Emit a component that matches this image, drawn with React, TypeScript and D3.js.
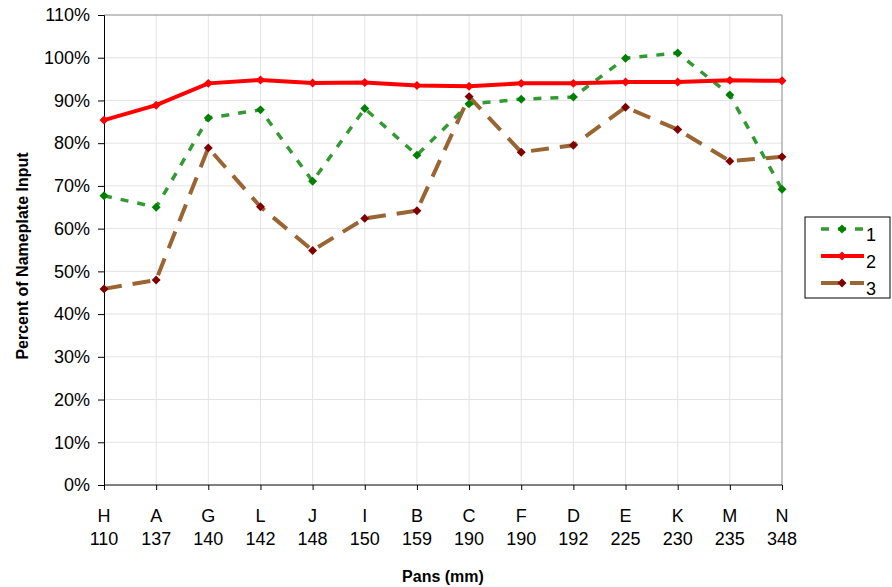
import React, { useRef, useEffect } from "react";
import * as d3 from "d3";

const letters = ["H", "A", "G", "L", "J", "I", "B", "C", "F", "D", "E", "K", "M", "N"];
const sizes = ["110", "137", "140", "142", "148", "150", "159", "190", "190", "192", "225", "230", "235", "348"];

const series1 = [67.7, 65.0, 85.9, 87.8, 71.1, 88.1, 77.2, 89.2, 90.3, 90.8, 99.9, 101.1, 91.3, 69.2];
const series2 = [85.4, 88.9, 94.0, 94.8, 94.1, 94.2, 93.5, 93.3, 94.0, 94.0, 94.3, 94.3, 94.7, 94.6];
const series3 = [45.9, 48.0, 78.9, 65.1, 54.9, 62.4, 64.2, 90.9, 77.9, 79.5, 88.4, 83.2, 75.8, 76.8];

const yTicks = [0, 10, 20, 30, 40, 50, 60, 70, 80, 90, 100, 110];

const App = () => {
    const ref = useRef(null);

    useEffect(() => {
        const svg = d3.select(ref.current);
        svg.selectAll("*").remove();

        const left = 104, right = 782, top = 15, bottom = 485;
        const font = "Liberation Sans, Arial, sans-serif";

        const x = d3.scalePoint()
            .domain(d3.range(letters.length).map(String))
            .range([left, right]);
        const y = d3.scaleLinear().domain([0, 110]).range([bottom, top]);

        // grid
        svg.append("g").selectAll("line").data(yTicks.slice(1, -1)).join("line")
            .attr("x1", left).attr("x2", right)
            .attr("y1", d => y(d)).attr("y2", d => y(d))
            .attr("stroke", "#e3e3e3").attr("stroke-width", 1);
        svg.append("g").selectAll("line").data(d3.range(1, letters.length - 1)).join("line")
            .attr("x1", d => x(String(d))).attr("x2", d => x(String(d)))
            .attr("y1", top).attr("y2", bottom)
            .attr("stroke", "#e3e3e3").attr("stroke-width", 1);

        // frame top/right
        svg.append("path")
            .attr("d", `M${left},${top}H${right}V${bottom}`)
            .attr("fill", "none").attr("stroke", "#888").attr("stroke-width", 1);

        // y axis
        const yAxis = svg.append("g")
            .attr("transform", `translate(${left},0)`)
            .call(d3.axisLeft(y).tickValues(yTicks).tickSize(6).tickPadding(8).tickFormat(d => d + "%"));
        yAxis.select(".domain").attr("stroke", "#000");
        yAxis.selectAll("text").attr("font-family", font).attr("font-size", 18).attr("fill", "#000");

        // x axis
        const xAxis = svg.append("g")
            .attr("transform", `translate(0,${bottom})`)
            .call(d3.axisBottom(x).tickSize(5).tickFormat(() => ""));
        xAxis.select(".domain").attr("stroke", "#000").attr("d", `M${left},0H${right}`);

        svg.append("g").selectAll("text").data(letters).join("text")
            .attr("x", (d, i) => x(String(i))).attr("y", 522)
            .attr("text-anchor", "middle")
            .attr("font-family", font).attr("font-size", 18)
            .text(d => d);
        svg.append("g").selectAll("text").data(sizes).join("text")
            .attr("x", (d, i) => x(String(i))).attr("y", 545)
            .attr("text-anchor", "middle")
            .attr("font-family", font).attr("font-size", 18)
            .text(d => d);

        // titles
        svg.append("text")
            .attr("x", 443).attr("y", 582)
            .attr("text-anchor", "middle")
            .attr("font-family", font).attr("font-size", 16).attr("font-weight", "bold")
            .text("Pans (mm)");
        svg.append("text")
            .attr("transform", "translate(28,256) rotate(-90)")
            .attr("text-anchor", "middle")
            .attr("font-family", font).attr("font-size", 16).attr("font-weight", "bold")
            .text("Percent of Nameplate Input");

        // excel-style diamond: square turned 45deg
        const diamond = d3.symbol().type(d3.symbolSquare).size(40);

        const configs = [
            { name: "1", data: series1, stroke: "#339933", width: 3.5, dash: "8,9", marker: "#008000" },
            { name: "2", data: series2, stroke: "#ff0000", width: 4, dash: null, marker: "#ff0000" },
            { name: "3", data: series3, stroke: "#996633", width: 4, dash: "18,11", marker: "#800000" },
        ];

        const line = d3.line<number>()
            .x((d, i) => x(String(i)))
            .y(d => y(d));

        // series 3 first, then 1, then 2 on top
        [configs[2], configs[0], configs[1]].forEach(c => {
            const g = svg.append("g");
            g.append("path")
                .datum(c.data)
                .attr("fill", "none")
                .attr("stroke", c.stroke)
                .attr("stroke-width", c.width)
                .attr("stroke-dasharray", c.dash)
                .attr("d", line);
            g.selectAll("path.m").data(c.data).join("path")
                .attr("class", "m")
                .attr("transform", (d, i) => `translate(${x(String(i))},${y(d)}) rotate(45)`)
                .attr("d", diamond)
                .attr("fill", c.marker);
        });

        // legend
        const lg = svg.append("g");
        lg.append("rect")
            .attr("x", 805).attr("y", 217).attr("width", 85).attr("height", 81)
            .attr("fill", "#fff").attr("stroke", "#000").attr("stroke-width", 1);
        configs.forEach((c, i) => {
            const ly = 229 + i * 27;
            lg.append("line")
                .attr("x1", 821).attr("x2", 864).attr("y1", ly).attr("y2", ly)
                .attr("stroke", c.stroke).attr("stroke-width", c.width)
                .attr("stroke-dasharray", c.dash);
            lg.append("path")
                .attr("transform", `translate(842,${ly}) rotate(45)`)
                .attr("d", diamond).attr("fill", c.marker);
            lg.append("text")
                .attr("x", 866).attr("y", ly + 12)
                .attr("font-family", font).attr("font-size", 18)
                .text(c.name);
        });
    }, []);

    return (
        <svg ref={ref} width={892} height={587} style={{ display: "block", position: "absolute", left: 0, top: 0 }} />
    );
};

export default App;
